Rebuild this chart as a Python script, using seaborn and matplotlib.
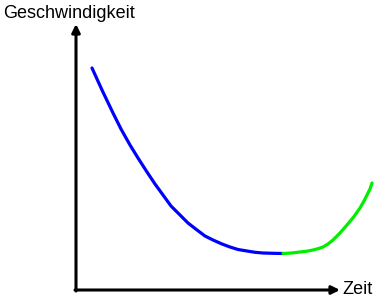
import matplotlib
matplotlib.use("Agg")
import matplotlib.pyplot as plt
import seaborn as sns
import pandas as pd

sns.set_style("white")
plt.rcParams['font.family'] = ['Liberation Sans', 'DejaVu Sans']

# Data: time and speed (units relative to axis origin)
t_blue = [16, 26, 37, 45, 54, 62, 71, 79, 87, 95, 104, 112, 121, 129, 137,
          146, 154, 162, 171, 179, 187, 197, 207]
v_blue = [222, 200, 177, 161, 145, 132, 118, 106, 95, 84, 75, 67, 60, 54, 50,
          46, 43, 40.5, 39, 37.7, 37, 36.7, 36.5]
t_green = [207, 216, 224, 231, 237, 242, 247, 252, 257, 264, 271, 278, 284,
           288, 291, 294, 296]
v_green = [36.5, 37, 38, 38.8, 40, 41.3, 43, 46, 50, 57, 65, 73.5, 82,
           89, 95, 101, 107]

y_label = "Geschwindigkeit"
x_label = "Zeit"

fig = plt.figure(figsize=(3.78, 3.05), dpi=100)
ax = fig.add_axes([0, 0, 1, 1])
ax.set_xlim(-76, 302)
ax.set_ylim(-15, 290)
ax.axis('off')

df_b = pd.DataFrame({"t": t_blue, "v": v_blue})
df_g = pd.DataFrame({"t": t_green, "v": v_green})
sns.lineplot(data=df_b, x="t", y="v", sort=False, color="#0000ff", lw=2.3, ax=ax)
sns.lineplot(data=df_g, x="t", y="v", sort=False, color="#00ee00", lw=2.3, ax=ax)

arrow = dict(arrowstyle="-|>", lw=2.2, color="black", mutation_scale=12, shrinkA=0, shrinkB=0)
ax.annotate("", xy=(0, 266), xytext=(0, -1), arrowprops=arrow)
ax.annotate("", xy=(264, 0), xytext=(-1, 0), arrowprops=arrow)

ax.text(-73, 276, y_label, ha="left", va="center", fontsize=13, color="black")
ax.text(266, 1, x_label, ha="left", va="center", fontsize=13, color="black")

fig.savefig("out.png", dpi=100)
